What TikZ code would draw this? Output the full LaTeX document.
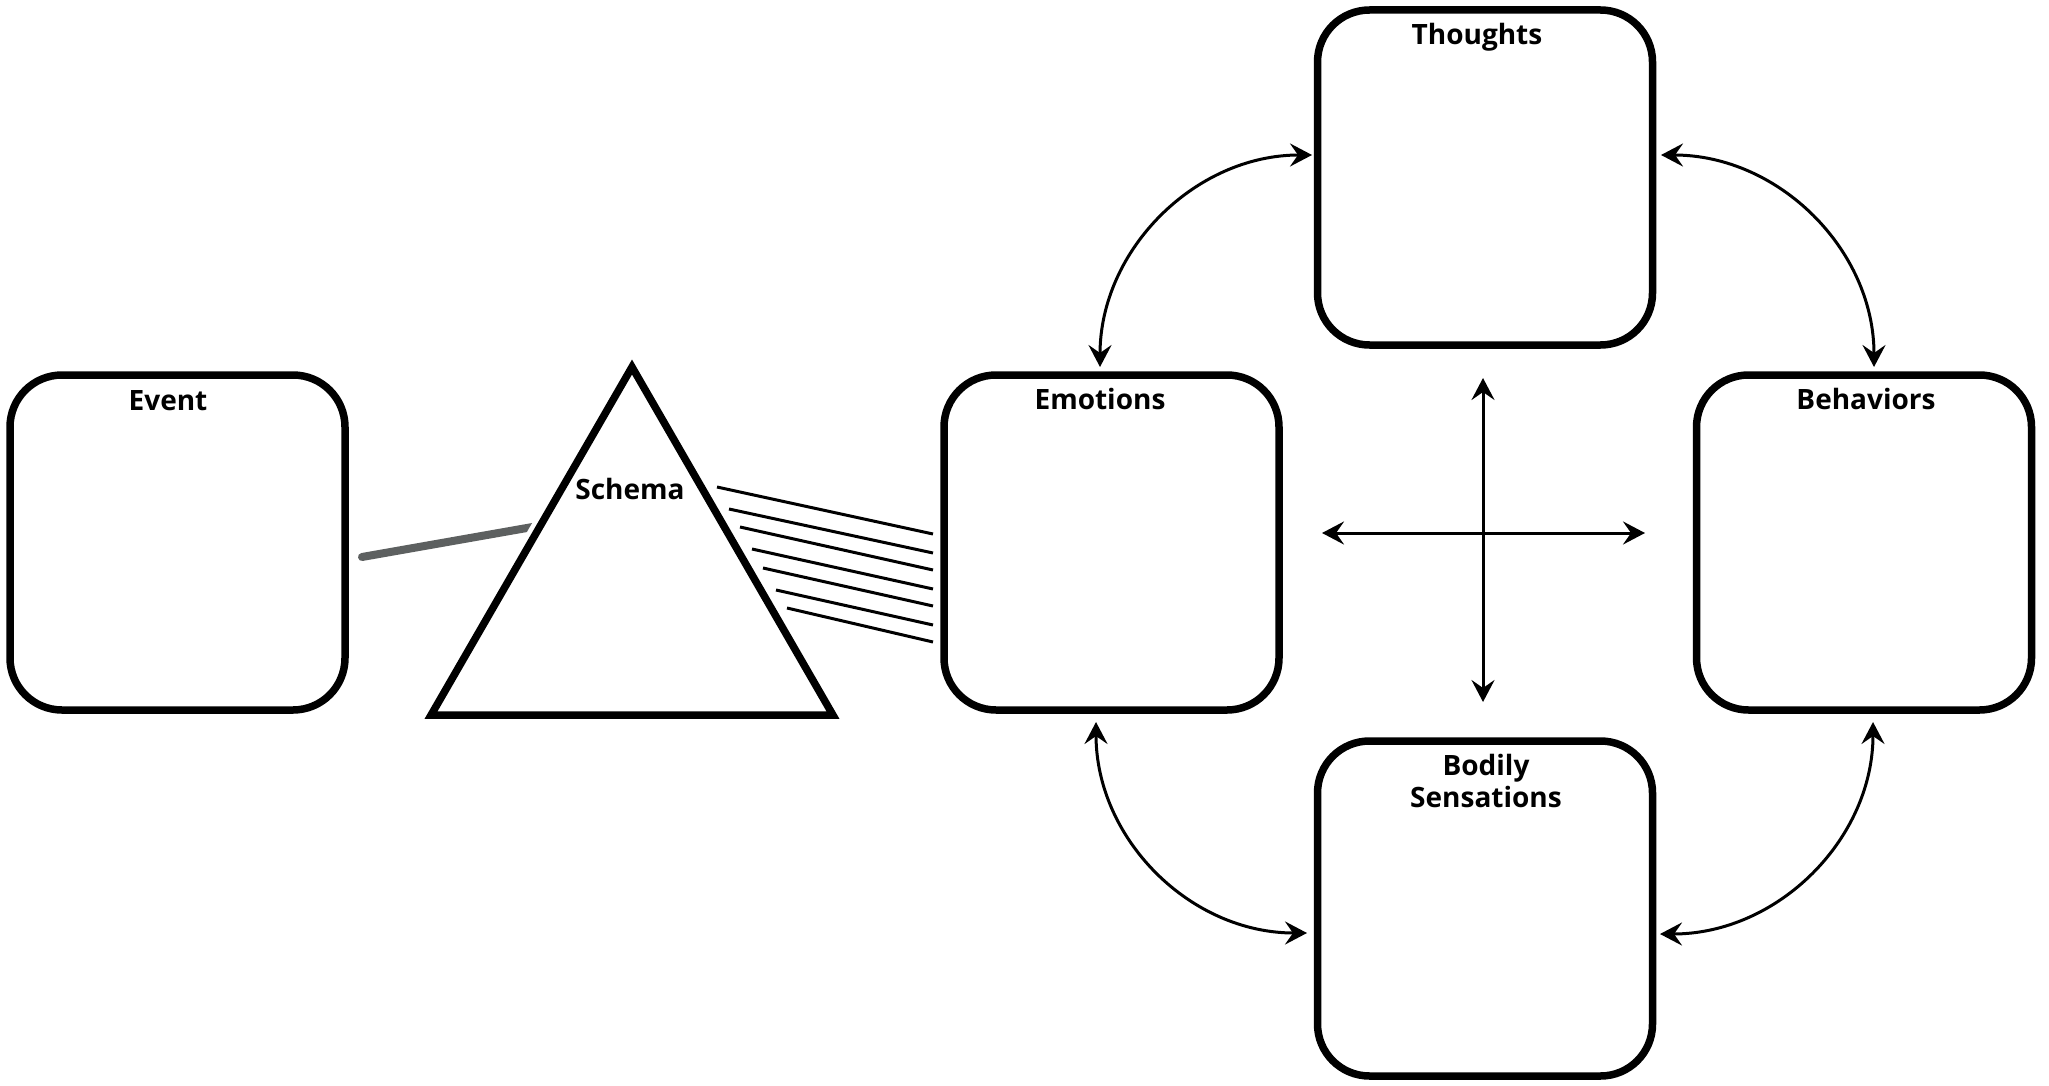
\documentclass[tikz,border=0pt]{standalone}
\usepackage{fontspec}
\setmainfont{Open Sans}
\usetikzlibrary{arrows.meta,shapes.geometric}
\begin{document}
\begin{tikzpicture}[x=1pt,y=-1pt,
  box/.style={draw=black,line width=7.5pt,rounded corners=52pt,minimum width=335pt,minimum height=335pt,inner sep=0pt},
  lab/.style={font=\fontsize{28}{32}\selectfont\bfseries,align=center,inner sep=0pt,anchor=base},
  tip/.tip={Stealth[length=22pt,width=23pt,inset=8pt]},
  link/.style={line width=3pt,tip-tip},
  ray/.style={line width=3pt},
]
\useasboundingbox (0,0) rectangle (2049,1086);
% boxes
\node[box] (event) at (177.5,542.5) {};
\node[box] (emotions) at (1111.5,542.5) {};
\node[box] (thoughts) at (1485,177.5) {};
\node[box] (behaviors) at (1864,542.5) {};
\node[box] (bodily) at (1485,908.5) {};
% labels
\node[lab] (eventlab) at (168,410) {Event};
\node[lab] (emolab) at (1100,409) {Emotions};
\node[lab] (thlab) at (1477,45) {Thoughts};
\node[lab] (behlab) at (1866,409) {Behaviors};
\node[lab] (bodlab) at (1486,807) {Bodily\\Sensations};
% triangle
\node[draw=black,line width=7.5pt,regular polygon,regular polygon sides=3,minimum size=464pt,inner sep=0pt] (schema) at (632,599) {};
\node[lab] (schemalab) at (630,499) {Schema};
% gray line from event to schema
\coordinate (g1) at (362,557);
\coordinate (g2) at (545,524.8);
\begin{scope}
\clip (0,0) -- (834,0) -- (207,1086) -- (0,1086) -- cycle;
\draw[line width=8pt,color={rgb,255:red,93;green,96;blue,96},line cap=round] (g1) -- (g2);
\end{scope}
% rays from schema to emotions
\foreach \sx/\sy/\ey in {717/487/534, 729/509/553, 740/527/570, 752/549/589, 763/568/606, 776/590/625, 787/608/642} {
  \draw[ray] (\sx,\sy) -- (933,\ey);
}
% cross
\coordinate (crossT) at (1483,378);
\coordinate (crossB) at (1483,702);
\coordinate (crossL) at (1322,533);
\coordinate (crossR) at (1645,533);
\draw[link] (crossT) -- (crossB);
\draw[link] (crossL) -- (crossR);
% arcs
\coordinate (a1s) at (1100,367);
\coordinate (a1e) at (1312,155);
\draw[link] (a1s) .. controls (1100,250) and (1195,155) .. (a1e);
\coordinate (a2s) at (1661,155);
\coordinate (a2e) at (1874,367);
\draw[link] (a2s) .. controls (1779,155) and (1874,250) .. (a2e);
\coordinate (a3s) at (1096,722);
\coordinate (a3e) at (1307,933);
\draw[link] (a3s) .. controls (1096,839) and (1190,933) .. (a3e);
\coordinate (a4s) at (1873,722);
\coordinate (a4e) at (1660,934);
\draw[link] (a4s) .. controls (1873,839) and (1778,934) .. (a4e);
\end{tikzpicture}
\end{document}
